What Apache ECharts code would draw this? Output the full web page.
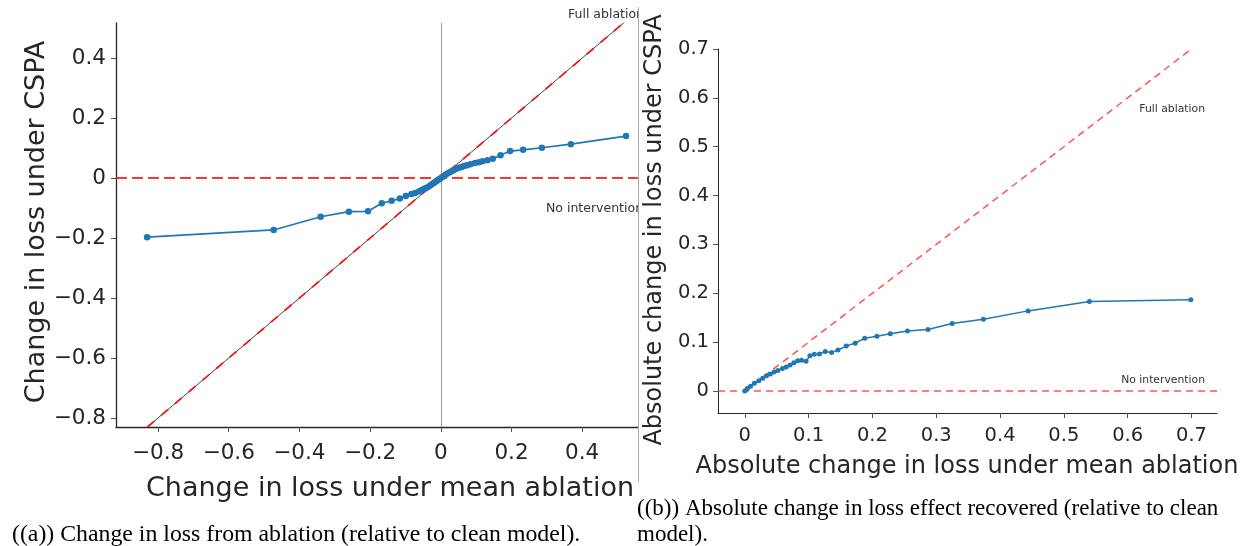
<!DOCTYPE html>
<html>
<head>
<meta charset="utf-8">
<script src="https://cdn.jsdelivr.net/npm/echarts@6/dist/echarts.min.js"></script>
<style>
  html, body { margin: 0; padding: 0; background: #fff; }
  #wrap { position: relative; width: 1254px; height: 546px; overflow: hidden; }
  #left { position: absolute; left: 0; top: 0; width: 638px; height: 546px; overflow: hidden; }
  #right { position: absolute; left: 0; top: 0; width: 1254px; height: 546px; }
</style>
</head>
<body>
<div id="wrap">
  <div id="left"></div>
  <div id="right"></div>
</div>
<script>
// Panel (a): signed change in loss, mean ablation (x) vs CSPA (y)
const signedChange = [
  [-0.831, -0.197], [-0.473, -0.173], [-0.340, -0.129], [-0.260, -0.112],
  [-0.206, -0.111], [-0.167, -0.084], [-0.139, -0.076], [-0.116, -0.068],
  [-0.099, -0.060], [-0.083, -0.053], [-0.073, -0.050], [-0.062, -0.045],
  [-0.054, -0.040], [-0.047, -0.036], [-0.040, -0.032], [-0.033, -0.027],
  [-0.027, -0.022], [-0.021, -0.017], [-0.016, -0.013], [-0.011, -0.009],
  [-0.006, -0.005], [-0.002, -0.002], [0.003, 0.003], [0.008, 0.007],
  [0.013, 0.011], [0.019, 0.015], [0.025, 0.019], [0.031, 0.023],
  [0.037, 0.027], [0.044, 0.031], [0.051, 0.034], [0.059, 0.037],
  [0.066, 0.040], [0.074, 0.043], [0.084, 0.046], [0.097, 0.050],
  [0.108, 0.053], [0.118, 0.056], [0.132, 0.059], [0.147, 0.064],
  [0.169, 0.076], [0.196, 0.090], [0.233, 0.094], [0.286, 0.101],
  [0.368, 0.113], [0.524, 0.140]
];
// Panel (b): absolute change in loss, mean ablation (x) vs CSPA (y)
const absChange = [
  [0.000, 0.000], [0.004, 0.005], [0.009, 0.010], [0.015, 0.016],
  [0.022, 0.021], [0.028, 0.026], [0.034, 0.031], [0.040, 0.035],
  [0.046, 0.039], [0.052, 0.042], [0.059, 0.046], [0.065, 0.049],
  [0.071, 0.053], [0.077, 0.058], [0.083, 0.062], [0.089, 0.063],
  [0.096, 0.061], [0.102, 0.072], [0.109, 0.075], [0.117, 0.076],
  [0.126, 0.081], [0.136, 0.079], [0.146, 0.084], [0.159, 0.092],
  [0.173, 0.098], [0.188, 0.108], [0.207, 0.112], [0.228, 0.117],
  [0.255, 0.123], [0.287, 0.126], [0.325, 0.138], [0.374, 0.147],
  [0.444, 0.164], [0.540, 0.183], [0.699, 0.187]
];
// "Full ablation" reference (y = x) end points
const fullAblationA = [-0.83, 0.52];
const fullAblationB = [0.0, 0.7];

// Tick values
const xTicksA = [-0.8, -0.6, -0.4, -0.2, 0, 0.2, 0.4];
const yTicksA = [-0.8, -0.6, -0.4, -0.2, 0, 0.2, 0.4];
const xTicksB = [0, 0.1, 0.2, 0.3, 0.4, 0.5, 0.6, 0.7];
const yTicksB = [0, 0.1, 0.2, 0.3, 0.4, 0.5, 0.6, 0.7];

// Text
const xTitleA = 'Change in loss under mean ablation';
const yTitleA = 'Change in loss under CSPA';
const xTitleB = 'Absolute change in loss under mean ablation';
const yTitleB = 'Absolute change in loss under CSPA';
const captionA = '((a)) Change in loss from ablation (relative to clean model).';
const captionB1 = '((b)) Absolute change in loss effect recovered (relative to clean';
const captionB2 = 'model).';
const labelFull = 'Full ablation';
const labelNone = 'No intervention';

const SANS = 'DejaVu Sans';
const SERIF = 'Liberation Serif';
const BLUE = '#1f77b4';
const INK = '#262626';

function fmt(v) {
  if (Math.abs(v) < 1e-9) return '0';
  const s = Math.abs(v).toFixed(1);
  return v < 0 ? '\u2212' + s : s;
}

function axis(min, max, ticks, fontSize, spineW, margin) {
  return {
    type: 'value', min: min, max: max, scale: true,
    axisLine: { show: true, onZero: false, lineStyle: { color: INK, width: spineW } },
    axisTick: { show: true, inside: false, length: 5, customValues: ticks,
                lineStyle: { color: '#555', width: 1 } },
    axisLabel: { customValues: ticks, formatter: fmt, color: INK,
                 fontFamily: SANS, fontSize: fontSize, margin: margin },
    splitLine: { show: false }
  };
}

// ---------- Panel (a) ----------
const left = echarts.init(document.getElementById('left'), null, { renderer: 'canvas' });
left.setOption({
  animation: false,
  grid: { left: 116, top: 23, width: 522, height: 404, containLabel: false },
  xAxis: axis(-0.919, 0.558, xTicksA, 21.5, 1.3, 15),
  yAxis: axis(-0.83, 0.517, yTicksA, 21.5, 1.3, 10),
  series: [
    {
      type: 'line', data: [], silent: true, z: 1,
      markLine: {
        silent: true, symbol: 'none', label: { show: false }, animation: false,
        data: [
          { xAxis: 0, lineStyle: { color: '#9a9a9a', width: 1, type: 'solid' } },
          { yAxis: 0, lineStyle: { color: 'rgba(255,0,0,0.8)', width: 1.8, type: [11, 5] } }
        ]
      }
    },
    {
      type: 'line', silent: true, symbol: 'none', z: 2,
      data: fullAblationA.map(v => [v, v]),
      lineStyle: { color: '#111', width: 0.8 }
    },
    {
      type: 'line', silent: true, symbol: 'none', z: 3,
      data: fullAblationA.map(v => [v, v]),
      lineStyle: { color: 'rgba(255,0,0,0.85)', width: 1.8, type: [9, 9] }
    },
    {
      type: 'line', data: signedChange, z: 5,
      symbol: 'circle', symbolSize: 6.5, showSymbol: true,
      lineStyle: { color: BLUE, width: 1.7 },
      itemStyle: { color: BLUE }
    }
  ],
  graphic: [
    { type: 'text', x: 568, y: 15, style: { text: labelFull, fontFamily: SANS, fontSize: 12.5, fill: '#333', verticalAlign: 'middle' } },
    { type: 'text', x: 546, y: 209, style: { text: labelNone, fontFamily: SANS, fontSize: 12.5, fill: '#333', verticalAlign: 'middle' } },
    { type: 'text', x: 390, y: 489, style: { text: xTitleA, fontFamily: SANS, fontSize: 27, fill: INK, align: 'center', verticalAlign: 'middle' } },
    { type: 'text', x: 37, y: 222, rotation: Math.PI / 2, style: { text: yTitleA, fontFamily: SANS, fontSize: 27, fill: INK, align: 'center', verticalAlign: 'middle' } },
    { type: 'text', x: 12, y: 535, style: { text: captionA, fontFamily: SERIF, fontSize: 23.8, fill: '#000', verticalAlign: 'middle' } }
  ]
});

// ---------- Panel (b) ----------
const right = echarts.init(document.getElementById('right'), null, { renderer: 'canvas' });
right.setOption({
  animation: false,
  backgroundColor: 'transparent',
  grid: { left: 718, top: 49, width: 499, height: 364, containLabel: false },
  xAxis: axis(-0.042, 0.74, xTicksB, 19.5, 1, 13),
  yAxis: axis(-0.045, 0.70, yTicksB, 19.5, 1, 9),
  series: [
    {
      type: 'line', data: [], silent: true, z: 1,
      markLine: {
        silent: true, symbol: 'none', label: { show: false }, animation: false,
        data: [
          { yAxis: 0, lineStyle: { color: 'rgba(255,40,40,0.8)', width: 1.5, type: [7, 5] } }
        ]
      }
    },
    {
      type: 'line', silent: true, symbol: 'none', z: 2,
      data: fullAblationB.map(v => [v, v]),
      lineStyle: { color: 'rgba(255,40,40,0.8)', width: 1.5, type: [7, 5] }
    },
    {
      type: 'line', data: absChange, z: 5,
      symbol: 'circle', symbolSize: 5, showSymbol: true,
      lineStyle: { color: BLUE, width: 1.5 },
      itemStyle: { color: BLUE }
    }
  ],
  graphic: [
    { type: 'line', shape: { x1: 638.5, y1: 7, x2: 638.5, y2: 482 }, style: { stroke: '#aaa', lineWidth: 1 } },
    { type: 'text', x: 1205, y: 109, style: { text: labelFull, fontFamily: SANS, fontSize: 10.8, fill: '#333', align: 'right', verticalAlign: 'middle' } },
    { type: 'text', x: 1205, y: 380, style: { text: labelNone, fontFamily: SANS, fontSize: 10.8, fill: '#333', align: 'right', verticalAlign: 'middle' } },
    { type: 'text', x: 967, y: 467, style: { text: xTitleB, fontFamily: SANS, fontSize: 24, fill: INK, align: 'center', verticalAlign: 'middle' } },
    { type: 'text', x: 655, y: 230, rotation: Math.PI / 2, style: { text: yTitleB, fontFamily: SANS, fontSize: 24, fill: INK, align: 'center', verticalAlign: 'middle' } },
    { type: 'text', x: 637, y: 509, style: { text: captionB1, fontFamily: SERIF, fontSize: 23, fill: '#000', verticalAlign: 'middle' } },
    { type: 'text', x: 637, y: 535, style: { text: captionB2, fontFamily: SERIF, fontSize: 23, fill: '#000', verticalAlign: 'middle' } }
  ]
});
</script>
</body>
</html>
